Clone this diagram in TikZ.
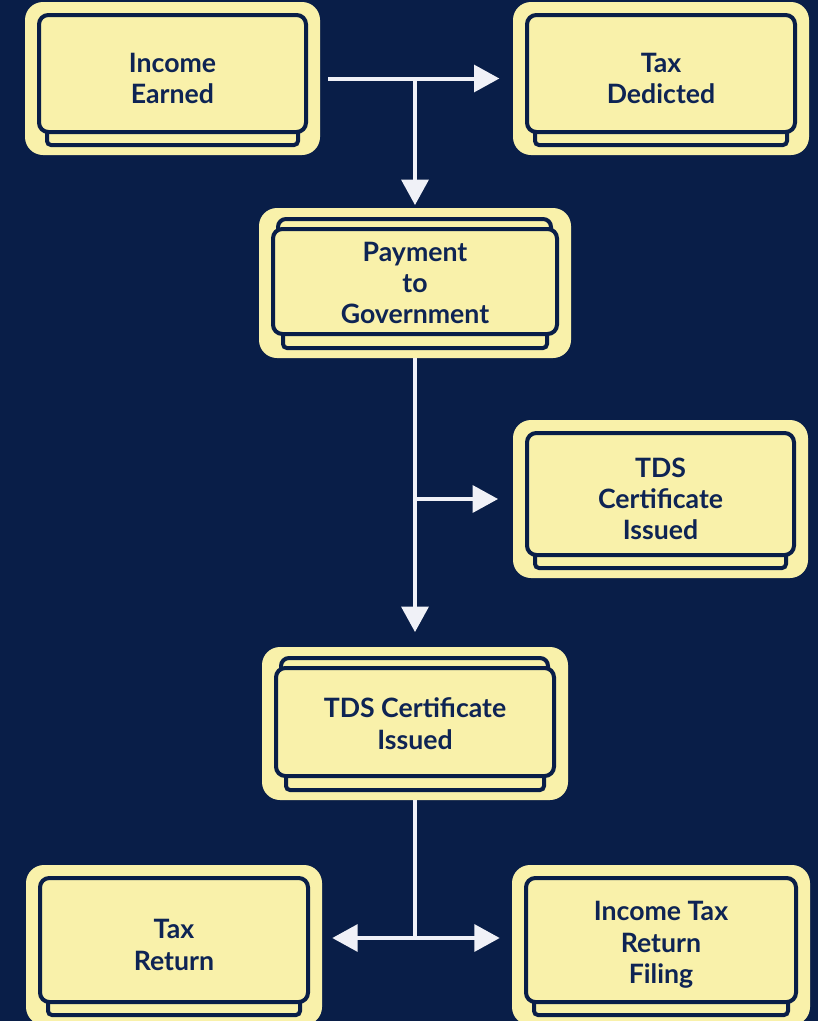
\documentclass[tikz,border=0pt]{standalone}
\usepackage{fontspec}
\setmainfont{Lato}
\definecolor{navy}{RGB}{9,30,72}
\definecolor{inknavy}{RGB}{14,36,84}
\definecolor{pale}{RGB}{249,241,170}
\definecolor{snow}{RGB}{240,241,247}
\usetikzlibrary{positioning}
\usetikzlibrary{calc,arrows.meta}

\begin{document}
\begin{tikzpicture}[x=0.75pt, y=0.75pt]
  \tikzset{
    rim/.style = {draw=navy, line width=3pt},
    card/.style = {fill=pale, rounded corners=13.5pt, align=center, text=inknavy,
      font=\fontsize{20}{23.5}\selectfont\bfseries,
      path picture={
        \draw[rim, fill=pale, rounded corners=3pt] ([shift={(22,10)}]path picture bounding box.south west) rectangle ([shift={(-22,30)}]path picture bounding box.south east);
        \draw[rim, fill=pale, rounded corners=7pt] ([shift={(14,23)}]path picture bounding box.south west) rectangle ([shift={(-14,-13)}]path picture bounding box.north east);
      }},
    card2/.style = {fill=pale, rounded corners=13.5pt, align=center, text=inknavy,
      font=\fontsize{20}{23.5}\selectfont\bfseries,
      path picture={
        \draw[rim, fill=pale, rounded corners=3pt] ([shift={(24,10)}]path picture bounding box.south west) rectangle ([shift={(-24,30)}]path picture bounding box.south east);
        \draw[rim, fill=pale, rounded corners=6pt] ([shift={(19,-40)}]path picture bounding box.north west) rectangle ([shift={(-20,-11)}]path picture bounding box.north east);
        \draw[rim, fill=pale, rounded corners=7pt] ([shift={(14,24)}]path picture bounding box.south west) rectangle ([shift={(-14,-21)}]path picture bounding box.north east);
      }},
    flow/.style = {draw=snow, line width=3pt, -{Triangle[length=19pt,width=20pt]}},
    flowboth/.style = {draw=snow, line width=3pt, {Triangle[length=19pt,width=20pt]}-{Triangle[length=19pt,width=20pt]}},
    trunk/.style = {draw=snow, line width=3pt}
  }

  \fill[navy] (0,0) rectangle (818,-1021);
  \useasboundingbox (0,0) rectangle (818,-1021);

  \node[card, minimum width=221.25pt, minimum height=114.75pt] (income) at (172.5,-78.5) {Income\\Earned};
  \node[card, minimum width=222pt, minimum height=114.75pt] (taxded) at (661,-78.5) {Tax\\Dedicted};
  \node[card2, minimum width=234pt, minimum height=112.5pt] (payment) at (415,-283) {Payment\\to\\Government};
  \node[card, minimum width=221.25pt, minimum height=118.5pt] (tdsright) at (660.5,-499) {TDS\\Certificate\\Issued};
  \node[card2, minimum width=229.5pt, minimum height=114.75pt] (tdsmid) at (415,-723.5) {TDS Certificate\\Issued};
  \node[card, minimum width=222pt, minimum height=120pt] (taxret) at (174,-945) {Tax\\Return};
  \node[card, minimum width=223.5pt, minimum height=120pt] (itrf) at (661,-945) {Income Tax\\Return\\Filing};

  \coordinate (split) at (415,-938);

  \draw[flow] ([xshift=6pt]income.east) -- ([xshift=-10pt]taxded.west);
  \draw[flow] (payment.north |- income.east) -- ([yshift=2pt]payment.north);
  \draw[flow] (payment.south) -- ([yshift=11pt]tdsmid.north);
  \draw[flow] (payment.south |- tdsright.west) -- ([xshift=-11pt]tdsright.west);
  \draw[trunk] (tdsmid.south) -- (split);
  \draw[flowboth] ($(split -| taxret.east)+(7.5pt,0)$) -- ($(split -| itrf.west)+(-9pt,0)$);
\end{tikzpicture}
\end{document}
